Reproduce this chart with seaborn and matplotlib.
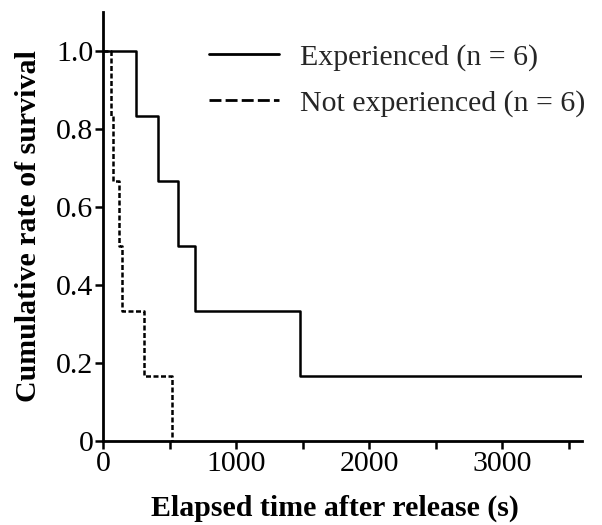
import matplotlib
matplotlib.use("Agg")
import matplotlib.pyplot as plt
import seaborn as sns
import pandas as pd
from matplotlib.ticker import MultipleLocator

# Data (Kaplan-Meier style step curves)
exp_label = "Experienced (n = 6)"
not_label = "Not experienced (n = 6)"
exp_time = [0, 250, 410, 560, 690, 1480, 3600]
exp_surv = [1.0, 0.833, 0.667, 0.5, 0.333, 0.167, 0.167]
not_time = [0, 60, 75, 120, 140, 305, 520]
not_surv = [1.0, 0.833, 0.667, 0.5, 0.333, 0.167, 0.0]
x_ticks = [0, 1000, 2000, 3000]
y_ticks = [0, 0.2, 0.4, 0.6, 0.8, 1.0]
y_tick_labels = ["0", "0.2", "0.4", "0.6", "0.8", "1.0"]

df = pd.concat([
    pd.DataFrame({"time": exp_time, "surv": exp_surv, "group": exp_label}),
    pd.DataFrame({"time": not_time, "surv": not_surv, "group": not_label}),
], ignore_index=True)

sns.set_theme(style="ticks")
plt.rcParams["font.family"] = ["Liberation Serif", "DejaVu Serif"]

FS = 21.5
fig = plt.figure(figsize=(6.02, 5.25), dpi=100)
ax = fig.add_axes([103/602, 1 - 441/525, (582-103)/602, (441-12)/525])

sns.lineplot(data=df, x="time", y="surv", style="group",
             dashes={exp_label: "", not_label: (2.0, 1.0)},
             style_order=[exp_label, not_label],
             color="black", linewidth=1.8, drawstyle="steps-post",
             estimator=None, sort=False, ax=ax)

ax.set_xlim(0, 3600)
ax.set_ylim(0, 1.1)
ax.set_xticks(x_ticks)
ax.xaxis.set_minor_locator(MultipleLocator(500))
ax.set_yticks(y_ticks)
ax.set_yticklabels(y_tick_labels)
for s in ["top", "right"]:
    ax.spines[s].set_visible(False)
for s in ["left", "bottom"]:
    ax.spines[s].set_linewidth(2)
    ax.spines[s].set_color("black")
ax.tick_params(axis="both", which="both", direction="out", length=6, width=1.8,
               colors="black", labelsize=FS, pad=1)
ax.set_xlabel("Elapsed time after release (s)", fontsize=FS, fontweight="bold",
              labelpad=13, color="black")
ax.xaxis.label.set_x(0.485)
ax.set_ylabel("Cumulative rate of survival", fontsize=FS, fontweight="bold",
              labelpad=10, color="black")

leg = ax.legend(loc="upper left", bbox_to_anchor=(209/602, 1 - 44/525),
                bbox_transform=fig.transFigure, frameon=False, fontsize=FS,
                handlelength=2.35, handletextpad=0.7, labelspacing=0.62,
                borderpad=0, borderaxespad=0, title=None)
handles = leg.get_lines()
handles[0].set_linewidth(2.0)
handles[1].set_linewidth(2.0)
handles[1].set_dashes((4.3, 1.5))

fig.savefig("out.png", dpi=100)
